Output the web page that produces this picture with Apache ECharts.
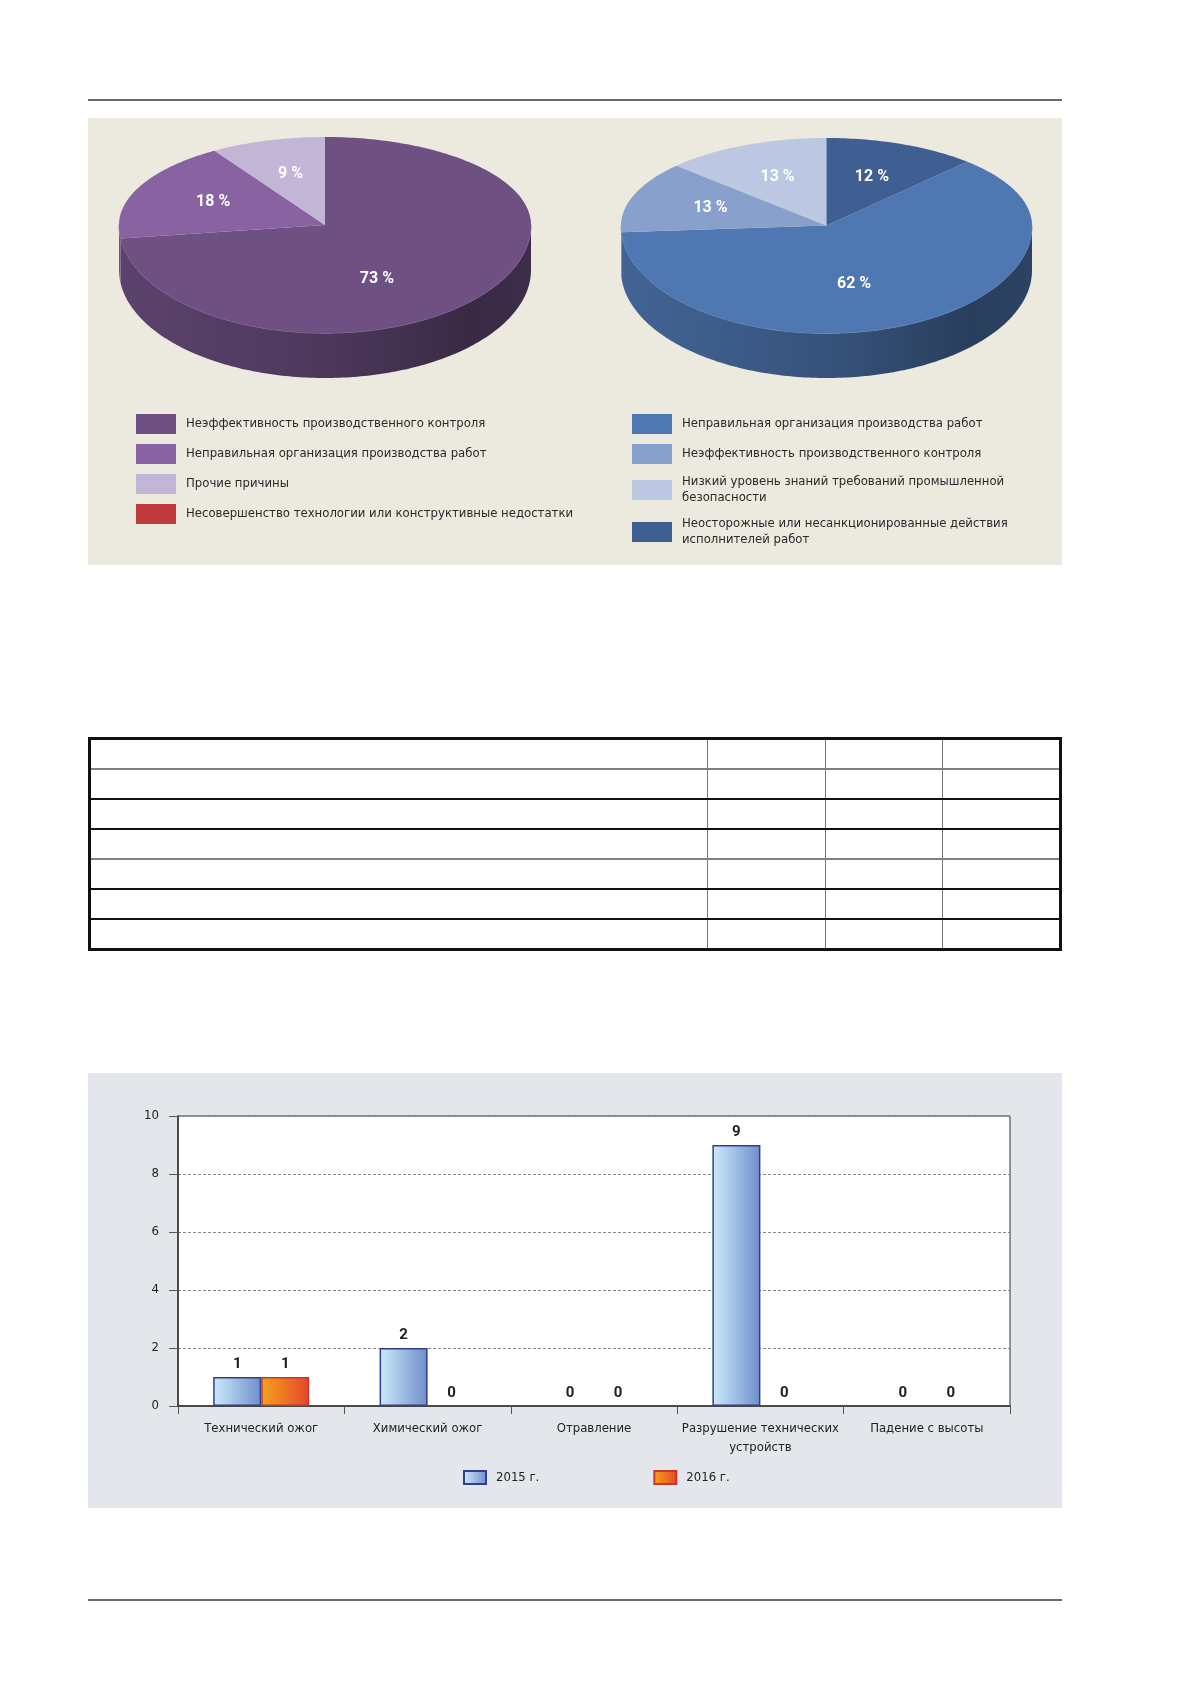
<!DOCTYPE html>
<html>
<head>
<meta charset="utf-8">
<script src="https://cdn.jsdelivr.net/npm/echarts@6/dist/echarts.min.js"></script>
<style>
  body { margin: 0; background: #fff; width: 1179px; height: 1681px; position: relative; font-family: Roboto, sans-serif; }
  .rule { position: absolute; left: 88px; width: 974px; height: 2px; background: #6a6a6a; }
  #piePanel { position: absolute; left: 88px; top: 118px; width: 974px; height: 447px; background: #ece9df; }
  #pieLeft, #pieRight { position: absolute; top: 0; height: 447px; }
  #pieLeft { left: 0; width: 530px; }
  #pieRight { left: 487px; width: 487px; }
  #tbl { position: absolute; left: 88px; top: 737px; width: 974px; border-collapse: collapse; border: 3px solid #111; }
  #tbl td { height: 28px; padding: 0; border-left: 1.5px solid #777; border-bottom: 2px solid #111; }
  #tbl td:first-child { border-left: none; }
  #tbl tr.g td { border-bottom-color: #808080; }
  #barPanel { position: absolute; left: 88px; top: 1073px; width: 974px; height: 435px; background: #e3e7eb; }
  #bars { width: 974px; height: 435px; }
</style>
</head>
<body>
<div class="rule" style="top:99px"></div>

<div id="piePanel">
  <div id="pieLeft"></div>
  <div id="pieRight"></div>
</div>

<table id="tbl">
  <colgroup><col style="width:620px"><col style="width:118px"><col style="width:118px"><col style="width:118px"></colgroup>
  <tr class="g"><td></td><td></td><td></td><td></td></tr>
  <tr><td></td><td></td><td></td><td></td></tr>
  <tr><td></td><td></td><td></td><td></td></tr>
  <tr class="g"><td></td><td></td><td></td><td></td></tr>
  <tr><td></td><td></td><td></td><td></td></tr>
  <tr><td></td><td></td><td></td><td></td></tr>
  <tr><td></td><td></td><td></td><td></td></tr>
</table>

<div id="barPanel"><div id="bars"></div></div>

<div class="rule" style="top:1599px"></div>

<script>
// left pie
var leftCauses = [
    'Неэффективность производственного контроля',
    'Неправильная организация производства работ',
    'Прочие причины',
    'Несовершенство технологии или конструктивные недостатки'
];
var leftShares = [73, 18, 9, 0];
var leftColors = ['#6e5083', '#8963a1', '#c2b5d5', '#c0393b'];

// right pie
var rightCauses = [
    'Неправильная организация производства работ',
    'Неэффективность производственного контроля',
    'Низкий уровень знаний требований промышленной\nбезопасности',
    'Неосторожные или несанкционированные действия\nисполнителей работ'
];
var rightShares = [62, 13, 13, 12];
var rightColors = ['#4f77b1', '#88a0cc', '#bcc7e1', '#3f5f92'];

// bar chart
var injuryTypes = ['Технический ожог', 'Химический ожог', 'Отравление', 'Разрушение технических\nустройств', 'Падение с высоты'];
var years = ['2015 г.', '2016 г.'];
var cases2015 = [1, 2, 0, 9, 0];
var cases2016 = [1, 0, 0, 0, 0];

// tilted pie: back half radius = 1, front half is stretched (perspective), then the wall
var FRONT = 1.23;
var DEPTH = 0.51;
var NARROW = "'DejaVu Sans Condensed', Roboto, sans-serif";
var BOLD = 'Roboto';

var rad = d => d * Math.PI / 180;

var darken = (c, k) => {
    let a = echarts.color.parse(c);
    return 'rgb(' + [0, 1, 2].map(i => Math.round(a[i] * k)).join(',') + ')';
};

var renderSlice = (params, api) => {
    let a0 = api.value(0), a1 = api.value(1), v = api.value(2);
    if (!(a1 > a0)) return null;
    let color = api.visual('color');
    let pt = (deg, r, dy) => {
        let y = Math.cos(rad(deg)) * r;
        return api.coord([Math.sin(rad(deg)) * r, (y < 0 ? y * FRONT : y) - (dy || 0)]);
    };
    let arc = (s, e, dy) => {
        let pts = [];
        for (let t = s; t < e; t += 1) pts.push(pt(t, 1, dy));
        pts.push(pt(e, 1, dy));
        return pts;
    };
    let children = [];
    let L = api.coord([-1, 0])[0], R = api.coord([1, 0])[0];
    // front wall: the part of the arc below the centre line
    for (let k = 0; k < 2; k++) {
        let s = Math.max(a0, 90 + 360 * k), e = Math.min(a1, 270 + 360 * k);
        if (e <= s) continue;
        let upper = arc(s, e, 0);
        let lower = arc(s, e, DEPTH).reverse();
        children.push({
            type: 'polygon',
            shape: { points: upper.concat(lower) },
            style: {
                fill: new echarts.graphic.LinearGradient(L, 0, R, 0, [
                    { offset: 0, color: darken(color, 0.84) },
                    { offset: 0.5, color: darken(color, 0.7) },
                    { offset: 0.85, color: darken(color, 0.52) },
                    { offset: 1, color: darken(color, 0.56) }
                ], true)
            }
        });
        children.push({
            type: 'polyline',
            shape: { points: upper },
            style: { stroke: echarts.color.lift(color, 0.18), lineWidth: 1, fill: null }
        });
    }
    children.push({
        type: 'polygon',
        shape: { points: [api.coord([0, 0])].concat(arc(a0, a1, 0)) },
        style: { fill: color }
    });
    // labels of the big slices sit nearer the front of the pie
    let mid = (a0 + a1) / 2, r = 0.6;
    if (v > 50) {
        mid += (180 - mid) * 0.45;
        r = 0.56;
    }
    let lp = pt(mid, r, 0);
    children.push({
        type: 'text',
        x: lp[0], y: lp[1],
        style: { text: v + ' %', fill: '#fff', font: 'bold 16px ' + BOLD, align: 'center', verticalAlign: 'middle' }
    });
    return { type: 'group', children: children };
};

var pieOption = (causes, shares, colors, start, grid, legendLeft) => {
    let acc = start;
    let slices = shares.map(s => {
        let a0 = acc;
        acc += s * 3.6;
        return [a0, acc, s];
    });
    return {
        animation: false,
        grid: grid,
        xAxis: { type: 'value', min: -1, max: 1, show: false },
        yAxis: { type: 'value', min: -FRONT - DEPTH, max: 1, show: false },
        legend: {
            orient: 'vertical',
            left: legendLeft,
            top: 296,
            padding: 0,
            icon: 'rect',
            itemWidth: 40,
            itemHeight: 20,
            itemGap: 10,
            selectedMode: false,
            data: causes,
            textStyle: { fontFamily: NARROW, fontSize: 13, color: '#2a2a2a', lineHeight: 16, padding: [0, 0, 0, 5] }
        },
        series: causes.map((name, i) => ({
            type: 'custom',
            name: name,
            coordinateSystem: 'cartesian2d',
            silent: true,
            itemStyle: { color: colors[i] },
            renderItem: renderSlice,
            data: [slices[i]]
        }))
    };
};

var leftChart = echarts.init(document.getElementById('pieLeft'));
leftChart.setOption(pieOption(leftCauses, leftShares, leftColors, 0,
    { left: 31, top: 19, width: 412, height: 241 }, 48));

var rightChart = echarts.init(document.getElementById('pieRight'));
rightChart.setOption(pieOption(rightCauses, rightShares, rightColors, 43.2,
    { left: 46, top: 20, width: 411, height: 240 }, 57));

var barLabel = { show: true, position: 'top', distance: 5, fontFamily: BOLD, fontWeight: 'bold', fontSize: 15, color: '#222' };
var noBorderOnZero = arr => arr.map(v => v === 0 ? { value: v, itemStyle: { borderWidth: 0 } } : v);

var barChart = echarts.init(document.getElementById('bars'));
barChart.setOption({
    animation: false,
    grid: { left: 90, right: 52, top: 43, bottom: 102, show: true, backgroundColor: '#fff', borderColor: '#333', borderWidth: 1 },
    legend: {
        left: 375,
        top: 397,
        padding: 0,
        icon: 'rect',
        itemWidth: 22,
        itemHeight: 13,
        itemGap: 114,
        selectedMode: false,
        data: years,
        textStyle: { fontFamily: NARROW, fontSize: 13, color: '#222', padding: [0, 0, 0, 5] }
    },
    xAxis: {
        type: 'category',
        data: injuryTypes,
        axisLine: { lineStyle: { color: '#333', width: 1.5 } },
        axisTick: { show: true, interval: 0, length: 8, lineStyle: { color: '#555' } },
        axisLabel: { interval: 0, fontFamily: NARROW, fontSize: 13, color: '#222', margin: 13, lineHeight: 19 }
    },
    yAxis: {
        type: 'value',
        min: 0,
        max: 10,
        interval: 2,
        axisLine: { show: true, lineStyle: { color: '#333', width: 1.5 } },
        axisTick: { show: true, length: 9, lineStyle: { color: '#555' } },
        axisLabel: { fontFamily: NARROW, fontSize: 13, color: '#222', margin: 19 },
        splitLine: { lineStyle: { type: [3, 2], color: '#888', width: 1 } }
    },
    series: [
        {
            name: years[0],
            type: 'bar',
            barWidth: 48,
            barGap: '0%',
            data: noBorderOnZero(cases2015),
            label: barLabel,
            itemStyle: {
                color: new echarts.graphic.LinearGradient(0, 0, 1, 0, [
                    { offset: 0, color: '#cdeafb' },
                    { offset: 1, color: '#6e8ecb' }
                ]),
                borderColor: '#2f3f8e',
                borderWidth: 1.5
            }
        },
        {
            name: years[1],
            type: 'bar',
            barWidth: 48,
            barGap: '0%',
            data: noBorderOnZero(cases2016),
            label: barLabel,
            itemStyle: {
                color: new echarts.graphic.LinearGradient(0, 0, 1, 0, [
                    { offset: 0, color: '#f7a21b' },
                    { offset: 1, color: '#e6452b' }
                ]),
                borderColor: '#c2392b',
                borderWidth: 1.5
            }
        }
    ]
});
</script>
</body>
</html>
